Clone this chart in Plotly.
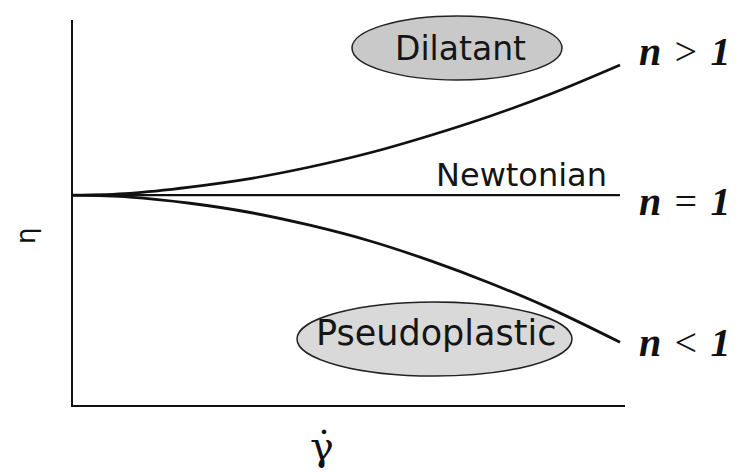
import plotly.graph_objects as go

# ---- data (x = shear rate, y = viscosity, arbitrary units 0-10) ----
shear_rate = [0.0, 1.03, 2.12, 3.21, 4.29, 5.38, 6.47, 7.55, 8.64, 9.91]
visc_dilatant = [5.45, 5.50, 5.66, 5.88, 6.18, 6.55, 7.00, 7.50, 8.07, 8.83]
visc_newtonian = [5.45, 5.45, 5.45, 5.45, 5.45, 5.45, 5.45, 5.45, 5.45, 5.45]
visc_pseudo = [5.45, 5.40, 5.24, 5.00, 4.67, 4.26, 3.75, 3.17, 2.51, 1.63]
series_names = ["Dilatant", "Newtonian", "Pseudoplastic"]
n_labels = ["<b><i>n</i></b>\u2004&gt;\u2004<b><i>1</i></b>",
            "<b><i>n</i></b>\u2004=\u2004<b><i>1</i></b>",
            "<b><i>n</i></b>\u2004&lt;\u2004<b><i>1</i></b>"]

OFF = 8  # page body margin
W, H = 739 - OFF, 472 - OFF
L, R, T, B = 73, 625, 20, 405  # plot area in window pixels


def fx(p):
    return (p - L) / (R - L)


def fy(p):
    return (B - p) / (B - T)


fig = go.Figure()
for name, ys, w in [(series_names[0], visc_dilatant, 2.6),
                    (series_names[1], visc_newtonian, 2.2),
                    (series_names[2], visc_pseudo, 2.8)]:
    fig.add_trace(go.Scatter(x=shear_rate, y=ys, mode="lines", name=name,
                             line=dict(color="#111111", width=w, shape="spline"),
                             showlegend=False, hoverinfo="skip"))

# ellipses with labels
fig.add_shape(type="circle", xref="paper", yref="paper",
              x0=fx(352), x1=fx(562), y0=fy(80), y1=fy(16),
              fillcolor="#c9c9c9", line=dict(color="#222222", width=1.5), layer="below")
fig.add_shape(type="circle", xref="paper", yref="paper",
              x0=fx(297), x1=fx(572), y0=fy(376), y1=fy(302),
              fillcolor="#d9d9d9", line=dict(color="#222222", width=1.5), layer="below")

txt_font = dict(family="DejaVu Sans", color="#151515")
common = dict(xref="paper", yref="paper", showarrow=False, xanchor="center", yanchor="middle")
fig.add_annotation(x=fx(460), y=fy(48), text=series_names[0],
                   font=dict(size=33, **txt_font), **common)
fig.add_annotation(x=fx(436), y=fy(333), text=series_names[2],
                   font=dict(size=35, **txt_font), **common)
fig.add_annotation(x=fx(521), y=fy(175), text=series_names[1],
                   font=dict(size=32, **txt_font), **common)

for lab, yc in zip(n_labels, [51, 201, 342]):
    fig.add_annotation(x=fx(637), y=fy(yc), text=lab, xref="paper", yref="paper",
                       xanchor="left", yanchor="middle", showarrow=False,
                       font=dict(family="Liberation Serif", size=40, color="#111111"))

# axis symbols
fig.add_annotation(x=fx(26), y=fy(236), text="η", textangle=-90,
                   font=dict(family="DejaVu Sans", size=26, color="#111111"), **common)
fig.add_annotation(x=fx(322), y=fy(446), text="γ̇",
                   font=dict(family="DejaVu Serif", size=40, color="#111111"), **common)

fig.update_xaxes(range=[0, 10], showgrid=False, zeroline=False, showticklabels=False,
                 ticks="", showline=True, linecolor="#111111", linewidth=2)
fig.update_yaxes(range=[0, 10], showgrid=False, zeroline=False, showticklabels=False,
                 ticks="", showline=True, linecolor="#111111", linewidth=2)

fig.update_layout(width=W, height=H,
                  margin=dict(l=L - OFF, r=739 - R, t=T - OFF, b=472 - B),
                  paper_bgcolor="white", plot_bgcolor="white", showlegend=False)

fig.write_html("out.html")
